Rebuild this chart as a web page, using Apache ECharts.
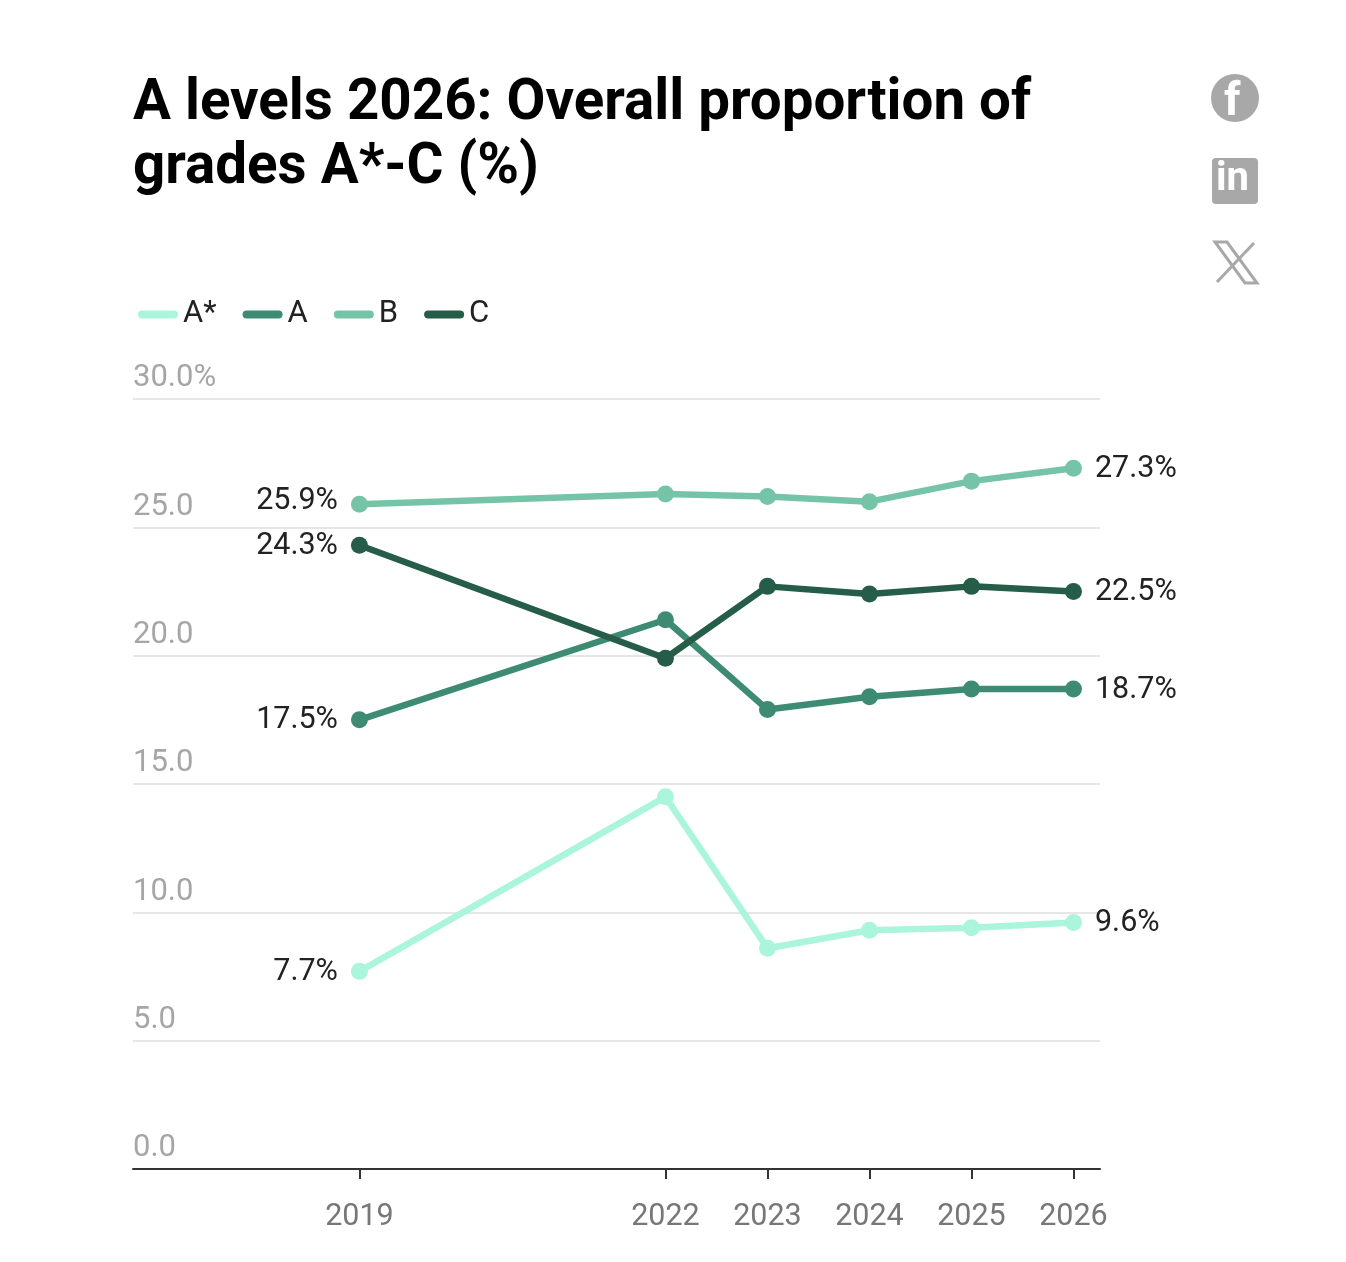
<!DOCTYPE html>
<html>
<head>
  <meta charset="utf-8">
  <title>A levels 2026</title>
  <script src="https://cdn.jsdelivr.net/npm/echarts@6.0.0/dist/echarts.min.js"></script>
  <style>
    html, body { margin: 0; padding: 0; background: #fff; }
    #main { width: 1346px; height: 1262px; }
  </style>
</head>
<body>
  <div id="main"></div>
  <script type="text/javascript">
    // data
    var years = [2019, 2022, 2023, 2024, 2025, 2026];
    var gradeAstar = [7.7, 14.5, 8.6, 9.3, 9.4, 9.6];
    var gradeA = [17.5, 21.4, 17.9, 18.4, 18.7, 18.7];
    var gradeB = [25.9, 26.3, 26.2, 26.0, 26.8, 27.3];
    var gradeC = [24.3, 19.9, 22.7, 22.4, 22.7, 22.5];
    var yTicks = [0, 5, 10, 15, 20, 25, 30];

    var FONT = 'Roboto, "Noto Sans", sans-serif';

    function makeSeries(name, values, color, firstDy) {
      var last = values.length - 1;
      var data = values.map(function (v, i) {
        var item = { value: [years[i], v] };
        if (i === 0 || i === last) {
          item.label = {
            show: true,
            position: i === 0 ? 'left' : 'right',
            distance: 13,
            offset: [0, i === 0 ? firstDy : 1],
            formatter: v.toFixed(1) + '%'
          };
        }
        return item;
      });
      return {
        name: name,
        type: 'line',
        data: data,
        symbol: 'circle',
        symbolSize: 17,
        itemStyle: { color: color },
        lineStyle: { color: color, width: 6.5 },
        label: {
          show: false,
          fontFamily: FONT,
          fontSize: 30.5,
          color: '#222'
        },
        emphasis: { disabled: true },
        animation: false
      };
    }

    var myChart = echarts.init(document.getElementById('main'));

    // pill shaped legend icon
    var pill = 'path://M4,0 L36,0 A4,4 0 0 1 36,8 L4,8 A4,4 0 0 1 4,0 Z';

    var option = {
      backgroundColor: '#fff',
      title: {
        text: 'A levels 2026: Overall proportion of\ngrades A*-C (%)',
        left: 128,
        top: 68,
        textStyle: {
          fontFamily: FONT,
          fontWeight: 'bold',
          fontSize: 56.5,
          lineHeight: 64,
          color: '#000'
        }
      },
      legend: {
        left: 133,
        top: 294,
        icon: pill,
        itemWidth: 40,
        itemHeight: 8,
        itemGap: 26,
        textStyle: { fontFamily: FONT, fontSize: 31, color: '#222' },
        data: ['A*', 'A', 'B', 'C']
      },
      grid: { left: 133, right: 246, top: 399, bottom: 93, containLabel: false },
      xAxis: {
        type: 'value',
        min: 2016.78,
        max: 2026.26,
        axisLine: { show: true, lineStyle: { color: '#333', width: 2 } },
        axisTick: {
          show: true,
          customValues: years,
          length: 10,
          lineStyle: { color: '#333', width: 2 }
        },
        axisLabel: {
          customValues: years,
          margin: 33,
          fontFamily: FONT,
          fontSize: 30.5,
          color: '#777',
          formatter: function (v) { return String(v); }
        },
        splitLine: { show: false }
      },
      yAxis: {
        type: 'value',
        min: 0,
        max: 30,
        interval: 5,
        axisLine: { show: false },
        axisTick: { show: false },
        axisLabel: {
          inside: true,
          margin: 0,
          verticalAlign: 'bottom',
          padding: [0, 0, 5, 0],
          fontFamily: FONT,
          fontSize: 31,
          color: '#a6a6a6',
          formatter: function (v) {
            return v === yTicks[yTicks.length - 1] ? v.toFixed(1) + '%' : v.toFixed(1);
          }
        },
        splitLine: { lineStyle: { color: '#e6e6e6', width: 2 } }
      },
      series: [
        makeSeries('A*', gradeAstar, '#aaf5dc', 1),
        makeSeries('A', gradeA, '#3e8b74', 1),
        makeSeries('B', gradeB, '#76c4a7', -3),
        makeSeries('C', gradeC, '#265d49', 1)
      ],
      graphic: [
        // facebook
        { type: 'circle', shape: { cx: 1235, cy: 98, r: 24 }, style: { fill: '#a8a8a8' } },
        { type: 'text', left: 1224, top: 80, style: { text: 'f', fill: '#fff', font: 'bold 46px ' + FONT } },
        // linkedin
        { type: 'rect', shape: { x: 1212, y: 158, width: 46, height: 46, r: 4 }, style: { fill: '#a8a8a8' } },
        { type: 'text', left: 1216, top: 160, style: { text: 'in', fill: '#fff', font: 'bold 40px ' + FONT } },
        // x
        { type: 'polygon', shape: { points: [[1215, 242], [1227, 242], [1257, 283], [1245, 283]] },
          style: { fill: '#fff', stroke: '#a8a8a8', lineWidth: 3 } },
        { type: 'line', shape: { x1: 1217, y1: 282, x2: 1254, y2: 243 }, style: { stroke: '#a8a8a8', lineWidth: 3 } }
      ]
    };

    myChart.setOption(option);
  </script>
</body>
</html>
